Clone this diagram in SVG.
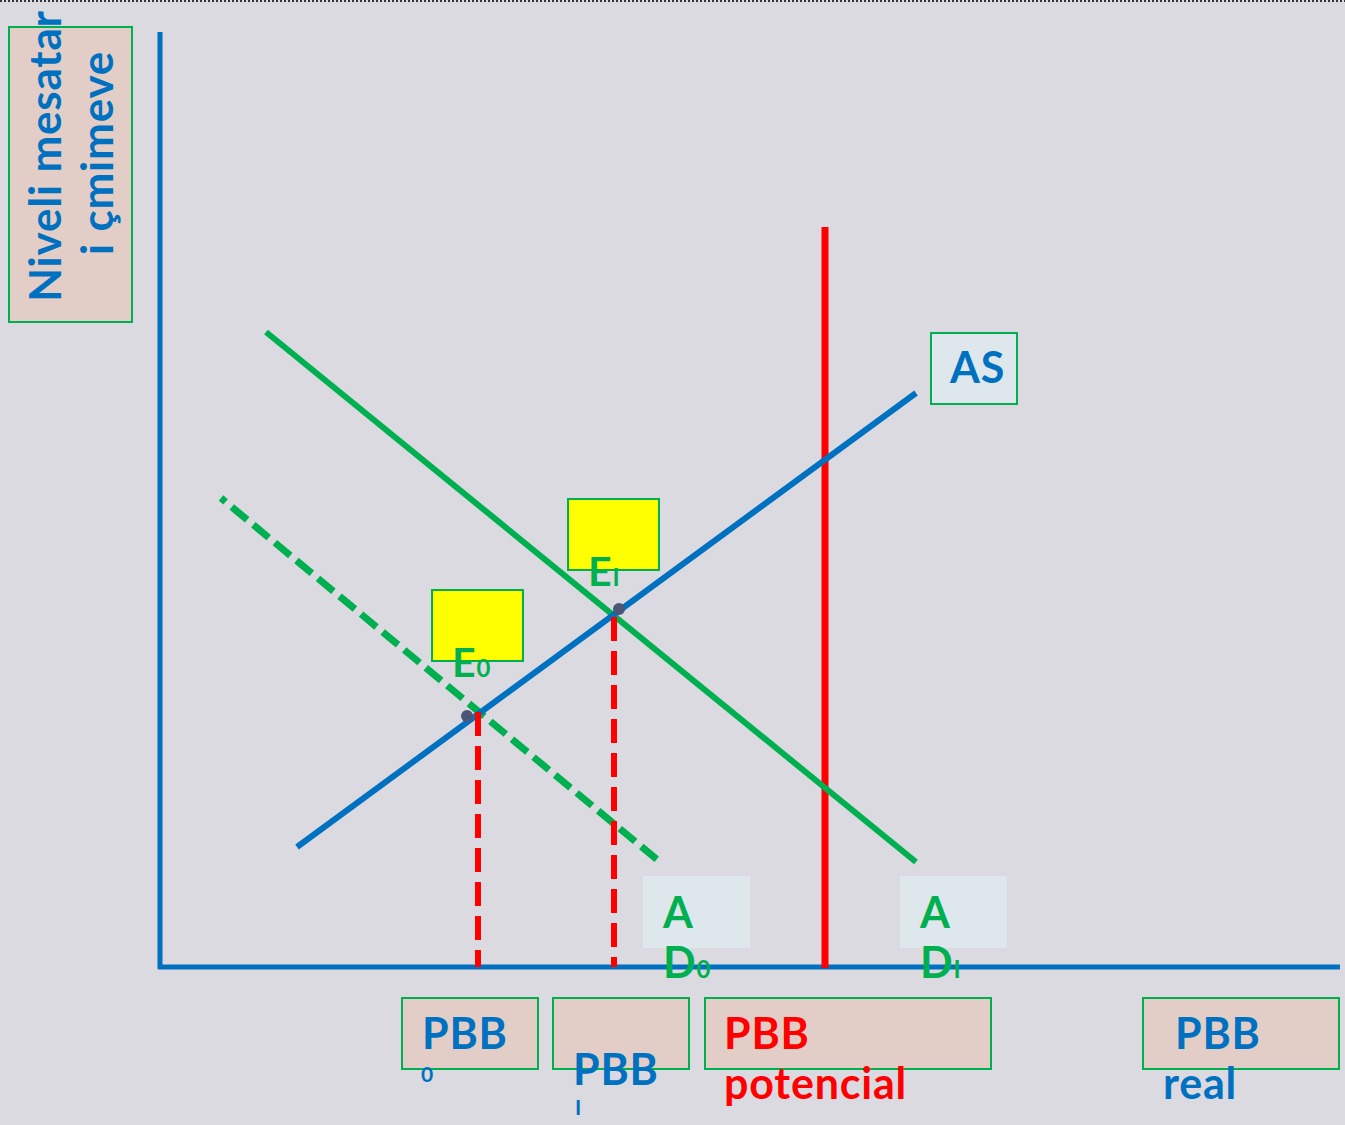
<svg xmlns="http://www.w3.org/2000/svg" width="1345" height="1125" viewBox="0 0 1345 1125">
<style>
.t{font-family:Lato,"Open Sans","Liberation Sans",sans-serif;font-weight:bold;letter-spacing:0.8px}
.blue{fill:#0070C0}
.green{fill:#00B050}
.red{fill:#FF0000}
.pbox{fill:#E2CEC6;stroke:#00B050;stroke-width:2}
.ybox{fill:#FFFF00;stroke:#00B050;stroke-width:2}
.lbox{fill:#DDE7EC}
</style>
<rect x="0" y="0" width="1345" height="1125" fill="#DADAE0"/>
<line x1="0" y1="1" x2="1345" y2="1" stroke="#000" stroke-width="1.5" stroke-dasharray="2,2"/>
<g id="ylabel">
<rect x="9" y="27" width="123" height="295" class="pbox"/>
<text class="t blue" font-size="44" text-anchor="middle" transform="translate(61,156) rotate(-90)">Niveli mesatar</text>
<text class="t blue" font-size="44" text-anchor="middle" transform="translate(113,153) rotate(-90)">i çmimeve</text>
</g>
<g id="axes" stroke="#0070C0" stroke-width="5" fill="none">
<line x1="160" y1="32" x2="160" y2="969"/>
<line x1="158" y1="967" x2="1340" y2="967"/>
</g>
<g id="connectors" fill="none">
<line id="potential" x1="825" y1="227" x2="825" y2="968" stroke="#FF0000" stroke-width="7"/>
<line id="ad0" x1="221" y1="498" x2="660" y2="862" stroke="#00B050" stroke-width="7" stroke-dasharray="6,8,20,8,20,8,20,8,20,8,20,8,20,8,20,8,20,8,20,8,20,8,20,8,20,8,20,8,20,8,20,8,20,8,20,8,20,8,20,8,20,8,20,8,20,8"/>
<line id="ad1" x1="266" y1="332" x2="916" y2="862" stroke="#00B050" stroke-width="6"/>
<line id="as" x1="297" y1="847" x2="916" y2="393" stroke="#0070C0" stroke-width="6"/>
<line x1="478" y1="712" x2="478" y2="967" stroke="#FF0000" stroke-width="6" stroke-dasharray="24,10"/>
<line x1="614" y1="617" x2="614" y2="967" stroke="#FF0000" stroke-width="6" stroke-dasharray="24,10"/>
</g>
<g id="points" fill="#4A5578">
<circle cx="467" cy="716" r="6"/>
<circle cx="619" cy="609" r="6"/>
</g>
<g id="E0">
<rect x="432" y="590" width="91" height="71" class="ybox"/>
<text class="t green" x="452" y="677" font-size="41">E<tspan font-size="24">0</tspan></text>
</g>
<g id="E1">
<rect x="568" y="499" width="91" height="71" class="ybox"/>
<text class="t green" x="588" y="586" font-size="41">E<tspan font-size="24">I</tspan></text>
</g>
<g id="AS">
<rect x="931" y="333" width="86" height="71" class="lbox" stroke="#00B050" stroke-width="2"/>
<text class="t blue" x="950" y="383" font-size="43">AS</text>
</g>
<g id="AD0">
<rect x="643" y="876" width="107" height="72" class="lbox"/>
<text class="t green" x="663" y="928" font-size="43">A</text>
<text class="t green" x="663" y="978" font-size="43">D<tspan font-size="24">0</tspan></text>
</g>
<g id="AD1">
<rect x="900" y="876" width="107" height="72" class="lbox"/>
<text class="t green" x="920" y="928" font-size="43">A</text>
<text class="t green" x="920" y="978" font-size="43">D<tspan font-size="24">I</tspan></text>
</g>
<g id="PBB0">
<rect x="402" y="998" width="136" height="71" class="pbox"/>
<text class="t blue" x="422" y="1049" font-size="43">PBB</text>
<text class="t blue" x="421" y="1082" font-size="21">0</text>
</g>
<g id="PBB1">
<rect x="553" y="998" width="136" height="71" class="pbox"/>
<text class="t blue" x="573" y="1085" font-size="43">PBB</text>
<text class="t blue" x="575" y="1115" font-size="21">I</text>
</g>
<g id="PBBpot">
<rect x="705" y="998" width="286" height="71" class="pbox"/>
<text class="t red" x="724" y="1049" font-size="43">PBB</text>
<text class="t red" x="724" y="1099" font-size="43">potencial</text>
</g>
<g id="PBBreal">
<rect x="1143" y="998" width="196" height="71" class="pbox"/>
<text class="t blue" x="1175" y="1049" font-size="43">PBB</text>
<text class="t blue" x="1163" y="1099" font-size="43">real</text>
</g>
</svg>
